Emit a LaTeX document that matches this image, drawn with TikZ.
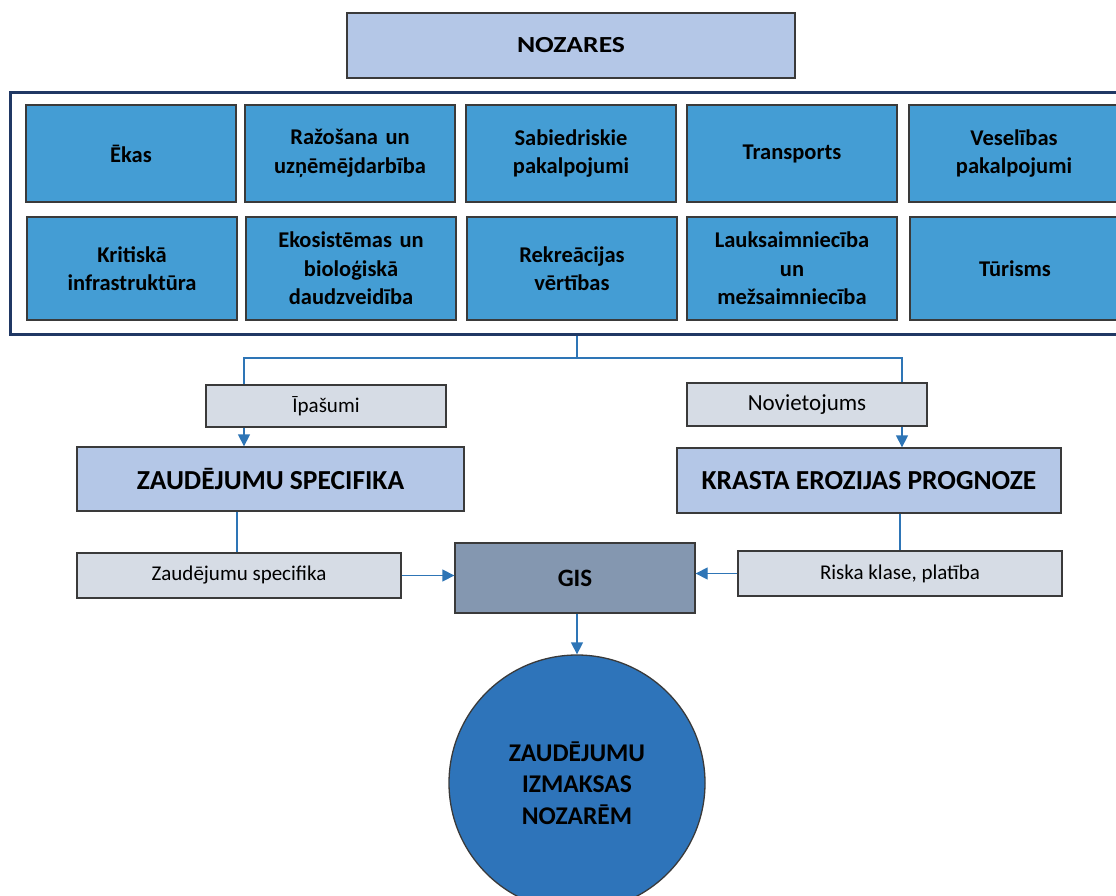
\documentclass[tikz,border=0pt]{standalone}
\usepackage{fontspec}
\setmainfont{Carlito}
\newfontfamily\nozfont{Carlito}[FakeStretch=1.2]
\usetikzlibrary{arrows.meta}

\definecolor{lightnoz}{HTML}{B4C7E7}
\definecolor{sectorblue}{HTML}{449DD4}
\definecolor{paleblue}{HTML}{D6DCE5}
\definecolor{gisgray}{HTML}{8497B0}
\definecolor{costblue}{HTML}{2E74BA}
\definecolor{linkblue}{HTML}{2E75B6}
\definecolor{framenavy}{HTML}{203864}
\definecolor{edgegray}{HTML}{3A3A3A}

\tikzset{
  sector/.style={draw=edgegray, line width=1.3pt, fill=sectorblue, minimum width=210pt,
    text width=204pt, align=center, inner sep=0pt, font=\bfseries\fontsize{22.5}{28.5}\selectfont},
  headbox/.style={draw=edgegray, line width=1.3pt, fill=lightnoz, inner sep=0pt,
    font=\bfseries\fontsize{27.5}{30}\selectfont},
  infobox/.style={draw=edgegray, line width=1.3pt, fill=paleblue, minimum width=240pt,
    inner sep=0pt, font=\fontsize{21}{25}\selectfont},
  link/.style={draw=linkblue, line width=1.3pt},
  arr/.style={link, ->, >={Triangle[length=12pt,width=12pt]}}
}

\begin{document}
\begin{tikzpicture}[x=1pt,y=-1pt]
    \clip (0,0) rectangle (1116,896);

    % 标题
    \node[headbox, minimum width=448pt, minimum height=65pt, font=\nozfont\bfseries\fontsize{23}{28}\selectfont]
      (nozares) at (571,45.5) {NOZARES};

    % 外框
    \node[draw=framenavy, line width=3pt, minimum width=1134pt, minimum height=241pt] (nozframe) at (577,213.5) {};

    % 第一行
    \node[sector, minimum height=97pt] (ekas) at (131,153.5) {Ēkas};
    \node[sector, minimum height=97pt] (razosana) at (350,153.5) {Ražošana un\\uzņēmējdarbība};
    \node[sector, minimum height=97pt] (sabiedr) at (571,153.5) {Sabiedriskie\\pakalpojumi};
    \node[sector, minimum height=97pt] (transp) at (792,153.5) {Transports};
    \node[sector, minimum height=97pt] (veselib) at (1014,153.5) {Veselības\\pakalpojumi};

    % 第二行
    \node[sector, minimum height=103pt] (kritiska) at (132,268.5) {Kritiskā\\infrastruktūra};
    \node[sector, minimum height=103pt] (ekosist) at (351,268.5) {Ekosistēmas un\\bioloģiskā\\daudzveidība};
    \node[sector, minimum height=103pt] (rekreac) at (572,268.5) {Rekreācijas\\vērtības};
    \node[sector, minimum height=103pt] (lauks) at (792,268.5) {Lauksaimniecība\\un\\mežsaimniecība};
    \node[sector, minimum height=103pt] (turisms) at (1015,268.5) {Tūrisms};

    % 分支
    \node[infobox, minimum height=42pt] (ipas) at (326,406) {Īpašumi};
    \node[infobox, minimum height=43pt, font=\fontsize{23}{26}\selectfont] (noviet) at (807,404.5) {Novietojums};
    \coordinate (split) at (577,358);
    \draw[link] (nozframe.south) -- (split);
    \draw[link] (split) -| ([xshift=-82pt]ipas.north);
    \draw[link] (split) -| ([xshift=95pt]noviet.north);

    % 中间层
    \node[headbox, minimum width=387pt, minimum height=64pt] (zspec) at (270.5,479) {ZAUDĒJUMU SPECIFIKA};
    \node[headbox, minimum width=384pt, minimum height=65pt] (krasta) at (869,480.5) {KRASTA EROZIJAS PROGNOZE};
    \draw[arr] ([xshift=-82pt]ipas.south) -- ([xshift=-82pt]ipas.south |- zspec.north);
    \draw[arr] ([xshift=95pt]noviet.south) -- ([xshift=95pt]noviet.south |- krasta.north);

    % GIS
    \node[infobox, minimum width=324pt, minimum height=45pt] (zspecl) at (239,575.5) {Zaudējumu specifika};
    \node[infobox, minimum width=324pt, minimum height=45pt] (riska) at (900,573.5) {Riska klase, platība};
    \node[draw=edgegray, line width=1.3pt, fill=gisgray, minimum width=240pt, minimum height=70pt,
      font=\bfseries\fontsize{25}{28}\selectfont] (gis) at (575,578) {GIS};
    \draw[link] ([xshift=-2pt]zspecl.north |- zspec.south) -- ([xshift=-2pt]zspecl.north);
    \draw[link] (riska.north |- krasta.south) -- (riska.north);
    \draw[arr] (zspecl.east) -- (zspecl.east -| gis.west);
    \draw[arr] (riska.west) -- (riska.west -| gis.east);

    % 结果
    \node[circle, draw=edgegray, line width=1.3pt, fill=costblue, minimum size=256pt, inner sep=0pt,
      align=center, font=\bfseries\fontsize{25.5}{31.5}\selectfont] (izmaksas) at (577,783)
      {ZAUDĒJUMU\\IZMAKSAS\\NOZARĒM};
    \draw[arr] ([xshift=2pt]gis.south) -- (izmaksas.north);
\end{tikzpicture}
\end{document}
